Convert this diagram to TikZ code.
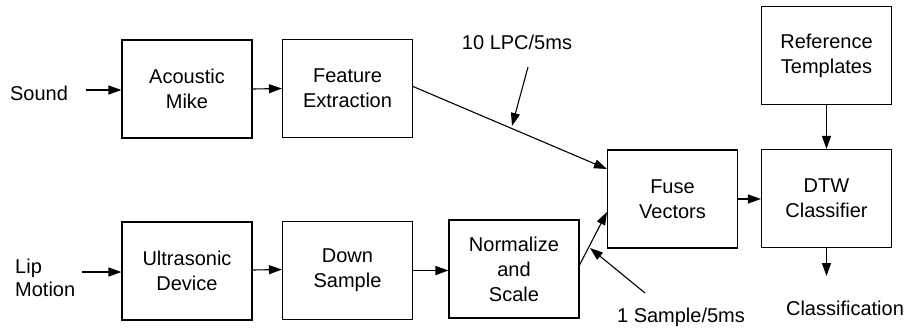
\documentclass[tikz,border=0pt]{standalone}
\usepackage{fontspec}
\setmainfont{Liberation Sans}
\usetikzlibrary{arrows.meta}
\begin{document}
\begin{tikzpicture}[x=1pt,y=-1pt,
  blk/.style={draw,line width=1.1pt,minimum width=130pt,minimum height=98pt,align=center,inner sep=0pt,font=\fontsize{20}{25}\selectfont},
  lbl/.style={align=center,inner sep=0pt,font=\fontsize{20}{23}\selectfont},
  arr/.style={line width=1.1pt,-{Triangle[length=13pt,width=9pt]}},
  ln/.style={line width=1.1pt}]
\useasboundingbox (0,0) rectangle (907,330);
\node[blk] (am) at (187,89) {Acoustic\\Mike};
\node[blk] (fe) at (347.5,88.5) {Feature\\Extraction};
\node[blk] (ud) at (187,271) {Ultrasonic\\Device};
\node[blk] (ds) at (347.5,270.5) {Down\\Sample};
\node[blk] (ns) at (514,269) {Normalize\\and\\Scale};
\node[blk] (fv) at (672.5,199) {Fuse\\Vectors};
\node[blk] (rt) at (826.5,55.5) {Reference\\Templates};
\node[blk] (dtw) at (826.5,198.5) {DTW\\Classifier};
\node[lbl] (snd) at (39,93) {Sound};
\node[lbl,align=left,anchor=west] (lip) at (15,278) {Lip\\Motion};
\node[lbl] (lpc) at (517,42) {10 LPC/5ms};
\node[lbl] (smp) at (681,317) {1 Sample/5ms};
\node[lbl] (cls) at (845,308) {Classification};
\coordinate (s0) at (86,90);
\coordinate (l0) at (82,272);
\coordinate (lpc0) at (528,67);
\coordinate (lpc1) at (512,126);
\coordinate (smp0) at (645,293);
\coordinate (smp1) at (590,248);
\coordinate (out) at (826.5,276);
\draw[arr] (s0) -- (s0 -| am.west);
\draw[arr] (am.east) -- (fe.west);
\draw[arr] (l0) -- (l0 -| ud.west);
\draw[arr] ([yshift=1pt]ud.east) -- ([yshift=1pt]ds.west);
\draw[arr] (ds.east) -- ([yshift=-1.5pt]ns.west);
\draw[arr] ([yshift=2pt]fe.east) -- ([yshift=30pt]fv.west);
\draw[arr] ([yshift=4pt]ns.east) -- ([yshift=-13pt]fv.west);
\draw[arr] (lpc0) -- (lpc1);
\draw[arr] (smp0) -- (smp1);
\draw[arr] (fv.east) -- (fv.east -| dtw.west);
\draw[arr] (rt.south) -- (dtw.north);
\draw[arr] (dtw.south) -- (out);
\end{tikzpicture}
\end{document}
